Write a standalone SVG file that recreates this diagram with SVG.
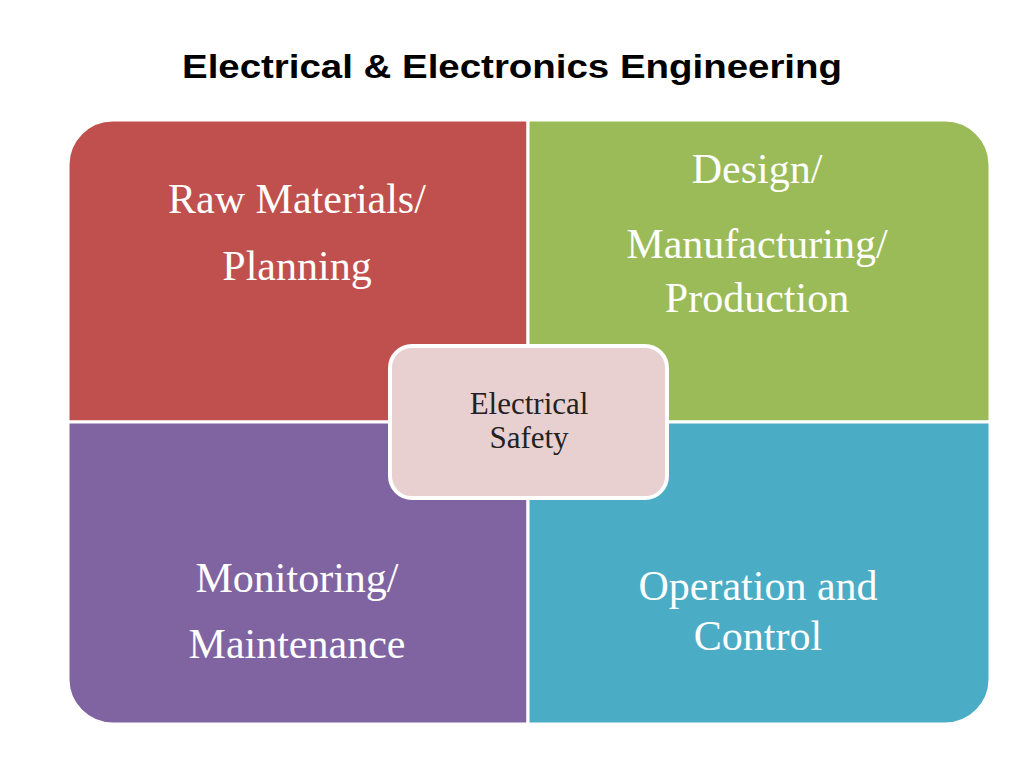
<svg xmlns="http://www.w3.org/2000/svg" width="1024" height="768" viewBox="0 0 1024 768">
<style>
.q{stroke:#fff;stroke-width:3}
.t{font-family:"Liberation Serif",serif;font-size:42px;fill:#fff;text-anchor:middle}
.c{font-family:"Liberation Serif",serif;font-size:31px;fill:#222;text-anchor:middle}
</style>
<rect width="1024" height="768" fill="#fff"/>
<text x="512" y="78" font-family="Liberation Sans,sans-serif" font-weight="bold" font-size="34" text-anchor="middle" textLength="660" lengthAdjust="spacingAndGlyphs">Electrical &amp; Electronics Engineering</text>
<g id="raw"><path class="q" fill="#c0504d" d="M528,120 V422 H68 V165 A45,45 0 0 1 113,120 Z"/>
<text class="t" x="297" y="213">Raw Materials/</text><text class="t" x="297" y="280">Planning</text></g>
<g id="design"><path class="q" fill="#9bbb59" d="M528,120 H945 A45,45 0 0 1 990,165 V422 H528 Z"/>
<text class="t" x="757" y="183">Design/</text><text class="t" x="757" y="258">Manufacturing/</text><text class="t" x="757" y="312">Production</text></g>
<g id="monitor"><path class="q" fill="#8064a2" d="M68,422 H528 V724 H113 A45,45 0 0 1 68,679 Z"/>
<text class="t" x="297" y="592">Monitoring/</text><text class="t" x="297" y="658">Maintenance</text></g>
<g id="operation"><path class="q" fill="#4bacc6" d="M528,422 H990 V679 A45,45 0 0 1 945,724 H528 Z"/>
<text class="t" x="758" y="600">Operation and</text><text class="t" x="758" y="650">Control</text></g>
<g id="safety"><rect x="390" y="346" width="277" height="152" rx="22" fill="#e8cfd0" stroke="#fff" stroke-width="4"/>
<text class="c" x="529" y="414">Electrical</text><text class="c" x="529" y="448">Safety</text></g>
<g id="connectors"/>
</svg>
